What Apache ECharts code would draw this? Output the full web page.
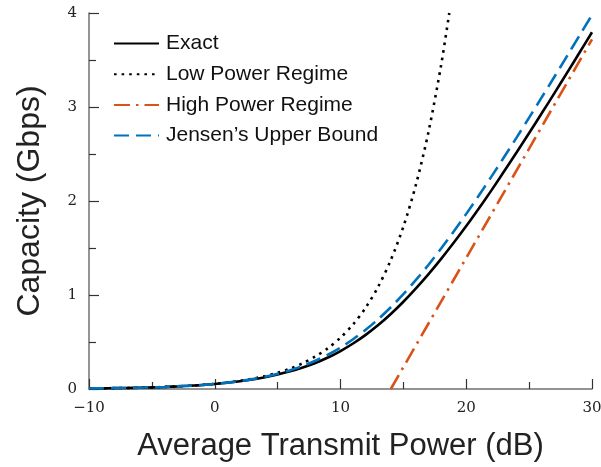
<!DOCTYPE html>
<html>
<head>
<meta charset="utf-8">
<script src="https://cdn.jsdelivr.net/npm/echarts@6/dist/echarts.min.js"></script>
<style>
html,body{margin:0;padding:0;background:#fff;}
#chart{width:601px;height:467px;}
</style>
</head>
<body>
<div id="chart"></div>
<script>
// Average transmit power (dB)
var powerDb = [-10,-9,-8,-7,-6,-5,-4,-3,-2,-1,0,1,2,3,4,5,6,7,8,9,10,11,12,13,14,15,16,17,18,19,20,21,22,23,24,25,26,27,28,29,30];
// Exact capacity (Gbps)
var exactCap = [0.006,0.007,0.009,0.011,0.014,0.017,0.022,0.028,0.035,0.043,0.054,0.067,0.083,0.102,0.126,0.154,0.188,0.229,0.277,0.335,0.404,0.484,0.576,0.680,0.798,0.928,1.070,1.222,1.384,1.555,1.733,1.920,2.113,2.313,2.516,2.723,2.933,3.145,3.360,3.577,3.795];
// Jensen's upper bound (Gbps)
var jensenCap = [0.006,0.007,0.009,0.011,0.014,0.017,0.022,0.028,0.035,0.043,0.054,0.068,0.085,0.105,0.131,0.162,0.200,0.246,0.300,0.365,0.441,0.529,0.630,0.743,0.870,1.009,1.160,1.322,1.494,1.675,1.863,2.058,2.259,2.465,2.674,2.887,3.102,3.319,3.538,3.759,3.980];
// Low power regime
var lowDb = [-10,-9,-8,-7,-6,-5,-4,-3,-2,-1,0,1,2,3,4,5,6,7,8,9,10,11,12,13,14,15,16,17,18,18.65];
var lowCap = [0.005,0.007,0.009,0.011,0.014,0.017,0.022,0.027,0.034,0.043,0.055,0.069,0.087,0.109,0.137,0.173,0.217,0.274,0.345,0.434,0.546,0.687,0.865,1.089,1.372,1.727,2.174,2.737,3.445,4.0];
// High power regime
var highDb = [14, 30];
var highCap = [0, 3.72];

var xTicks = [-10, 0, 10, 20, 30];
var yTicks = [0, 1, 2, 3, 4];

function pairs(xs, ys){ return xs.map(function(x,i){ return [x, ys[i]]; }); }

var axisColor = '#707070';
var chart = echarts.init(document.getElementById('chart'), null, {renderer:'canvas'});
chart.setOption({
  animation: false,
  backgroundColor: '#ffffff',
  grid: {left: 89, right: 9, top: 13, bottom: 78, containLabel: false, outerBoundsMode: 'none'},
  legend: {
    orient: 'vertical',
    left: 113, top: 33, padding: 0,
    itemWidth: 45, itemHeight: 14, itemGap: 9.7,
    itemStyle: {opacity: 0},
    textStyle: {fontFamily: 'Liberation Sans', fontSize: 21, color: '#111', padding: [0,0,0,2]},
    data: ['Exact','Low Power Regime','High Power Regime','Jensen\u2019s Upper Bound']
  },
  xAxis: {
    type: 'value', min: xTicks[0], max: xTicks[xTicks.length-1], interval: 10,
    name: 'Average Transmit Power (dB)', nameLocation: 'middle', nameGap: 42,
    nameTextStyle: {fontFamily: 'Liberation Sans', fontSize: 31, color: '#222'},
    axisLine: {onZero: false, lineStyle: {color: axisColor, width: 1.5}},
    axisTick: {inside: true, length: 10, lineStyle: {color: '#333', width: 1.2}},
    minorTick: {show: true, splitNumber: 2, length: 7, lineStyle: {color: '#333', width: 1.2}},
    splitLine: {show: false},
    axisLabel: {margin: 12, fontFamily: 'DejaVu Serif', fontSize: 15, color: '#222',
      formatter: function(v){ return String(v).replace('-', '\u2212'); }}
  },
  yAxis: {
    type: 'value', min: yTicks[0], max: yTicks[yTicks.length-1], interval: 1,
    name: 'Capacity (Gbps)', nameLocation: 'middle', nameGap: 43,
    nameTextStyle: {fontFamily: 'Liberation Sans', fontSize: 32, color: '#222'},
    axisLine: {show: true, onZero: false, lineStyle: {color: axisColor, width: 1.5}},
    axisTick: {show: true, inside: true, length: 10, lineStyle: {color: '#333', width: 1.2}},
    minorTick: {show: true, splitNumber: 2, length: 7, lineStyle: {color: '#333', width: 1.2}},
    splitLine: {show: false},
    axisLabel: {margin: 12, fontFamily: 'DejaVu Serif', fontSize: 15, color: '#222'}
  },
  series: [
    {name: 'Exact', type: 'line', data: pairs(powerDb, exactCap), showSymbol: false, symbol: 'none',
     smooth: 0.3, color: '#000',
     lineStyle: {color: '#000', width: 2.6}},
    {name: 'Low Power Regime', type: 'line', data: pairs(lowDb, lowCap), showSymbol: false, symbol: 'none',
     smooth: 0.3, color: '#000',
     lineStyle: {color: '#000', width: 2.6, type: [2.6, 5]}},
    {name: 'High Power Regime', type: 'line', data: pairs(highDb, highCap), showSymbol: false, symbol: 'none',
     color: '#D95319',
     lineStyle: {color: '#D95319', width: 2.6, type: [16, 6, 2.5, 6]}},
    {name: 'Jensen\u2019s Upper Bound', type: 'line', data: pairs(powerDb, jensenCap), showSymbol: false, symbol: 'none',
     smooth: 0.3, color: '#0072BD',
     lineStyle: {color: '#0072BD', width: 2.6, type: [15, 7]}}
  ]
});
</script>
</body>
</html>
